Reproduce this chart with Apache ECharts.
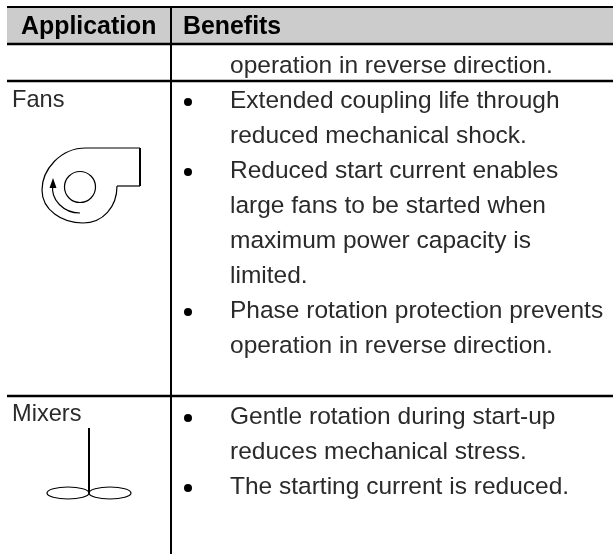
<!DOCTYPE html>
<html><head><meta charset="utf-8">
<style>html,body{margin:0;padding:0;background:#fff}#c{width:613px;height:554px}</style>
<script src="https://cdn.jsdelivr.net/npm/echarts@6/dist/echarts.min.js"></script>
</head><body><div id="c"></div>
<script>
const headers = ["Application", "Benefits"];
const carryLine = "operation in reverse direction.";
const fanLabel = "Fans";
const mixerLabel = "Mixers";
const fanLines = [
  ["•", "Extended coupling life through"],
  ["", "reduced mechanical shock."],
  ["•", "Reduced start current enables"],
  ["", "large fans to be started when"],
  ["", "maximum power capacity is"],
  ["", "limited."],
  ["•", "Phase rotation protection prevents"],
  ["", "operation in reverse direction."]
];
const mixerLines = [
  ["•", "Gentle rotation during start-up"],
  ["", "reduces mechanical stress."],
  ["•", "The starting current is reduced."]
];

const FONT = '"Liberation Sans", Arial, sans-serif';
const SIZE = 24.5, STEP = 35;
const chart = echarts.init(document.getElementById('c'), null, {renderer:'canvas'});
const g = [];
const line = (x1,y1,x2,y2,w) => g.push({type:'line',shape:{x1,y1,x2,y2},style:{stroke:'#000',lineWidth:w}});
const text = (x,y,t,opt={}) => g.push({type:'text',x,y,style:Object.assign({text:t,fill:'#2a2a2a',font:`${SIZE}px ${FONT}`,textVerticalAlign:'middle',textAlign:'left'},opt)});
const curve = (x1,y1,cpx1,cpy1,cpx2,cpy2,x2,y2,w=1.2) => g.push({type:'bezierCurve',shape:{x1,y1,cpx1,cpy1,cpx2,cpy2,x2,y2},style:{fill:'none',stroke:'#000',lineWidth:w}});

g.push({type:'rect',shape:{x:7,y:7,width:606,height:37},style:{fill:'#cccccc'}});
line(7,7,613,7,2);
line(7,44,613,44,2.5);
line(7,81,613,81,2.5);
line(7,396,613,396,2.5);
line(171,7,171,554,2);

text(21,27,headers[0],{font:`bold 24.9px ${FONT}`,fill:'#000'});
text(183,27,headers[1],{font:`bold 24.9px ${FONT}`,fill:'#000'});
text(230,66,carryLine);
text(12,100,fanLabel,{font:`23.6px ${FONT}`});
text(12,414,mixerLabel,{font:`23.6px ${FONT}`});

const bodyLines = (rows,y0) => rows.forEach((r,i)=>{
  const y=y0+i*STEP;
  if(r[0]) g.push({type:'circle',shape:{cx:188,cy:y+1,r:4},style:{fill:'#000'}});
  text(230,y,r[1]);
});
bodyLines(fanLines,101);
bodyLines(mixerLines,417);

// Fan icon
line(86,148,140,148,1.2);
line(140,148,140,186,2);
line(117,186,140,186,1.2);
curve(86,148,60,148,42,170,42,190);
curve(42,190,42,210,62,223,83,223);
curve(83,223,103,223,117,207,117,186);
g.push({type:'circle',shape:{cx:80,cy:187,r:15.5},style:{fill:'none',stroke:'#000',lineWidth:1.2}});
curve(80,213,64,213,50,200,53,184);
g.push({type:'polygon',shape:{points:[[53,178],[49.5,188],[56.5,188]]},style:{fill:'#000'}});

// Mixer icon
line(89,428,89,493,2);
g.push({type:'ellipse',shape:{cx:68,cy:493,rx:21,ry:6},style:{fill:'none',stroke:'#000',lineWidth:1.2}});
g.push({type:'ellipse',shape:{cx:110,cy:493,rx:21,ry:6},style:{fill:'none',stroke:'#000',lineWidth:1.2}});

chart.setOption({animation:false,backgroundColor:'#fff',graphic:{elements:g}});
</script></body></html>
